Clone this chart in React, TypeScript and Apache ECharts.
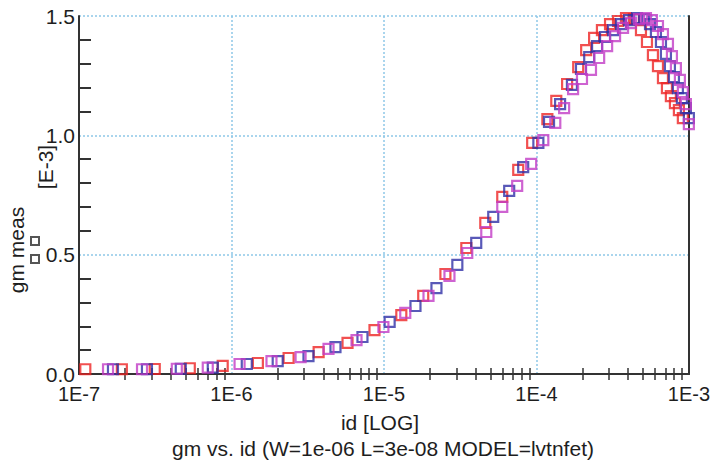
import React, { useEffect, useRef } from "react";
import * as echarts from "echarts";

// id [A] and gm [E-3 S]
const redId = [1.10e-7, 1.91e-7, 3.14e-7, 5.33e-7, 8.76e-7, 1.49e-6, 2.37e-6, 3.73e-6, 5.77e-6, 8.67e-6, 1.30e-5, 1.81e-5, 2.53e-5, 3.47e-5, 4.62e-5, 5.97e-5, 7.60e-5, 9.38e-5, 1.18e-4, 1.35e-4, 1.59e-4, 1.88e-4, 2.12e-4, 2.39e-4, 2.69e-4, 3.04e-4, 3.43e-4, 3.87e-4, 4.36e-4, 4.85e-4, 5.31e-4, 5.81e-4, 6.27e-4, 6.76e-4, 7.18e-4, 7.62e-4, 8.10e-4, 8.60e-4, 9.13e-4];
const redGm = [0.020, 0.020, 0.021, 0.024, 0.034, 0.046, 0.067, 0.092, 0.130, 0.184, 0.247, 0.327, 0.419, 0.528, 0.633, 0.742, 0.855, 0.968, 1.068, 1.144, 1.215, 1.286, 1.357, 1.408, 1.441, 1.466, 1.479, 1.491, 1.487, 1.441, 1.391, 1.336, 1.290, 1.240, 1.198, 1.164, 1.135, 1.106, 1.072];

const blueId = [1.67e-7, 2.79e-7, 4.65e-7, 7.54e-7, 1.26e-6, 2.01e-6, 3.20e-6, 4.81e-6, 7.23e-6, 1.09e-5, 1.61e-5, 2.21e-5, 3.03e-5, 4.03e-5, 5.21e-5, 6.63e-5, 8.19e-5, 1.03e-4, 1.21e-4, 1.43e-4, 1.71e-4, 1.96e-4, 2.22e-4, 2.50e-4, 2.82e-4, 3.18e-4, 3.59e-4, 4.05e-4, 4.57e-4, 5.08e-4, 5.56e-4, 6.08e-4, 6.56e-4, 7.07e-4, 7.51e-4, 7.98e-4, 8.47e-4, 9.00e-4, 9.56e-4, 1.0e-3];
const blueGm = [0.020, 0.020, 0.022, 0.027, 0.042, 0.054, 0.075, 0.113, 0.155, 0.218, 0.285, 0.360, 0.457, 0.549, 0.658, 0.767, 0.867, 0.968, 1.056, 1.131, 1.211, 1.278, 1.328, 1.374, 1.412, 1.441, 1.466, 1.483, 1.491, 1.487, 1.466, 1.433, 1.391, 1.341, 1.290, 1.244, 1.198, 1.156, 1.114, 1.072];

const magentaId = [1.55e-7, 2.59e-7, 4.38e-7, 6.99e-7, 1.13e-6, 1.83e-6, 2.84e-6, 4.33e-6, 6.61e-6, 9.92e-6, 1.38e-5, 1.96e-5, 2.69e-5, 3.52e-5, 4.69e-5, 5.97e-5, 7.48e-5, 9.24e-5, 1.11e-4, 1.33e-4, 1.52e-4, 1.74e-4, 1.99e-4, 2.28e-4, 2.58e-4, 2.91e-4, 3.28e-4, 3.70e-4, 4.17e-4, 4.71e-4, 5.23e-4, 5.72e-4, 6.27e-4, 6.76e-4, 7.29e-4, 7.74e-4, 8.22e-4, 8.73e-4, 9.13e-4, 9.56e-4, 1.0e-3];
const magentaGm = [0.020, 0.020, 0.022, 0.027, 0.042, 0.054, 0.071, 0.105, 0.142, 0.197, 0.256, 0.327, 0.411, 0.507, 0.595, 0.700, 0.788, 0.880, 0.980, 1.052, 1.114, 1.194, 1.236, 1.274, 1.324, 1.374, 1.416, 1.450, 1.470, 1.487, 1.491, 1.483, 1.458, 1.424, 1.383, 1.332, 1.282, 1.232, 1.181, 1.131, 1.047];

const decades = [1e-7, 1e-6, 1e-5, 1e-4];
const minorMultipliers = [2, 3, 4, 5, 6, 7, 8, 9];
const yMinorTicks = [0.1, 0.2, 0.3, 0.4, 0.6, 0.7, 0.8, 0.9, 1.1, 1.2, 1.3, 1.4];

const FONT = "'Liberation Sans', Arial, Helvetica, sans-serif";
const TEXT = "#1e1e1e";
const AXIS = "#333333";
const GRIDC = "#8ec8e8";
const FS = 21;
const TICK_FS = 20;

function pairs(xs: number[], ys: number[]) {
  return xs.map((x, i) => [x, ys[i]]);
}

export default function App() {
  const ref = useRef<HTMLDivElement>(null);
  useEffect(() => {
    if (!ref.current) return;
    const chart = echarts.init(ref.current, null, { renderer: "svg" });
    const xMinor: number[] = [];
    decades.forEach((d) => minorMultipliers.forEach((m) => xMinor.push(m * d)));

    const scatterBase = (name: string, color: string, data: number[][]) => ({
      name,
      type: "scatter",
      xAxisIndex: 0,
      yAxisIndex: 0,
      symbol: "rect",
      symbolSize: 10,
      clip: false,
      itemStyle: { color: "rgba(0,0,0,0)", borderColor: color, borderWidth: 2.2 },
      data,
    });

    chart.setOption({
      animation: false,
      backgroundColor: "#ffffff",
      grid: { left: 79, right: 23, top: 16, bottom: 87 },
      xAxis: [
        {
          type: "log",
          logBase: 10,
          position: "bottom",
          min: 1e-7,
          max: 1e-3,
          axisLine: { show: true, lineStyle: { color: AXIS, width: 2 } },
          axisTick: { show: false },
          axisLabel: {
            fontFamily: FONT,
            fontSize: TICK_FS,
            lineHeight: 18,
            color: TEXT,
            margin: 11,
            formatter: (v: number) => "1E" + Math.round(Math.log10(v)),
          },
          splitLine: { show: true, lineStyle: { color: GRIDC, width: 1.5, type: [2, 2] } },
        },
        {
          type: "log",
          logBase: 10,
          position: "bottom",
          min: 1e-7,
          max: 1e-3,
          axisLine: { show: false },
          axisTick: { show: true, inside: true, length: 6, customValues: xMinor, lineStyle: { color: AXIS, width: 1.5 } },
          axisLabel: { show: false },
          splitLine: { show: false },
        },
        {
          type: "log",
          logBase: 10,
          position: "top",
          min: 1e-7,
          max: 1e-3,
          axisLine: { show: true, lineStyle: { color: AXIS, width: 2 } },
          axisTick: { show: true, inside: true, length: 6, customValues: xMinor, lineStyle: { color: AXIS, width: 1.5 } },
          axisLabel: { show: false },
          splitLine: { show: false },
        },
      ],
      yAxis: [
        {
          type: "value",
          position: "left",
          min: 0,
          max: 1.5,
          interval: 0.5,
          axisLine: { show: true, lineStyle: { color: AXIS, width: 2 } },
          axisTick: { show: false },
          axisLabel: {
            fontFamily: FONT,
            fontSize: FS,
            lineHeight: 16,
            color: TEXT,
            margin: 4,
            formatter: (v: number) => v.toFixed(1),
          },
          splitLine: { show: true, lineStyle: { color: GRIDC, width: 1.5, type: [2, 2] } },
        },
        {
          type: "value",
          position: "left",
          min: 0,
          max: 1.5,
          interval: 0.5,
          axisLine: { show: false },
          axisTick: { show: true, inside: true, length: 12, customValues: yMinorTicks, lineStyle: { color: AXIS, width: 2 } },
          axisLabel: { show: false },
          splitLine: { show: false },
        },
        {
          type: "value",
          position: "right",
          min: 0,
          max: 1.5,
          interval: 0.5,
          axisLine: { show: true, lineStyle: { color: AXIS, width: 2 } },
          axisTick: { show: false },
          axisLabel: { show: false },
          splitLine: { show: false },
        },
      ],
      series: [
        scatterBase("red", "#ee2424", pairs(redId, redGm)),
        scatterBase("blue", "#2f2fa6", pairs(blueId, blueGm)),
        scatterBase("magenta", "#c23cc6", pairs(magentaId, magentaGm)),
      ],
      graphic: [
        {
          type: "text",
          x: 16,
          y: 250,
          rotation: Math.PI / 2,
          style: { text: "gm meas", fontFamily: FONT, fontSize: FS, fill: TEXT, align: "center", verticalAlign: "middle" },
        },
        {
          type: "text",
          x: 45,
          y: 167,
          rotation: Math.PI / 2,
          style: { text: "[E-3]", fontFamily: FONT, fontSize: FS, fill: TEXT, align: "center", verticalAlign: "middle" },
        },
        {
          type: "rect",
          shape: { x: 31, y: 237, width: 8, height: 8 },
          style: { fill: "none", stroke: "#555555", lineWidth: 2 },
        },
        {
          type: "rect",
          shape: { x: 31, y: 255, width: 8, height: 8 },
          style: { fill: "none", stroke: "#555555", lineWidth: 2 },
        },
        {
          type: "text",
          x: 380,
          y: 422,
          style: { text: "id [LOG]", fontFamily: FONT, fontSize: FS, fill: TEXT, align: "center", verticalAlign: "middle" },
        },
        {
          type: "text",
          x: 383,
          y: 448,
          style: {
            text: "gm vs. id (W=1e-06 L=3e-08 MODEL=lvtnfet)",
            fontFamily: FONT,
            fontSize: FS,
            fill: TEXT,
            align: "center",
            verticalAlign: "middle",
          },
        },
      ],
    });
    return () => chart.dispose();
  }, []);
  return (
    <div
      ref={ref}
      style={{ position: "fixed", left: 0, top: 0, width: 713, height: 461, background: "#fff" }}
    />
  );
}
